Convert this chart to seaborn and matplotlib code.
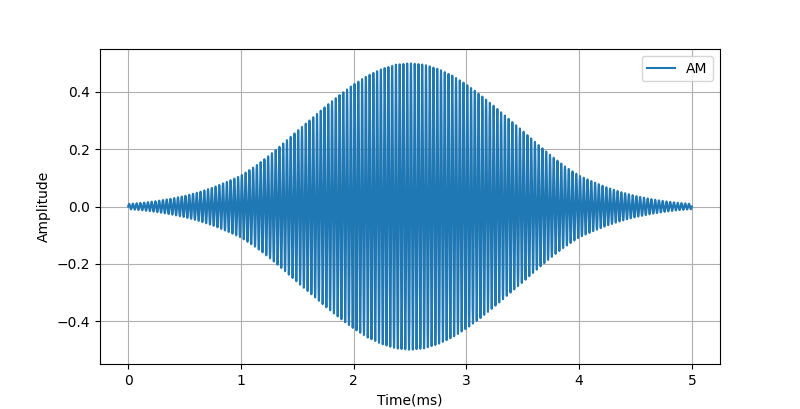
import numpy as np
import pandas as pd
import matplotlib
matplotlib.use("Agg")
import matplotlib.pyplot as plt
import seaborn as sns

# Envelope peak amplitude, every 0.125 ms from 0 to 2.5 ms
# (the curve is symmetric about 2.5 ms)
env_times_half = [0.0, 0.125, 0.25, 0.375, 0.5, 0.625, 0.75, 0.875, 1.0, 1.125,
                  1.25, 1.375, 1.5, 1.625, 1.75, 1.875, 2.0, 2.125, 2.25, 2.375, 2.5]
env_values_half = [0.009, 0.013, 0.019, 0.027, 0.037, 0.050, 0.066, 0.086, 0.108, 0.140,
                   0.178, 0.220, 0.264, 0.306, 0.349, 0.389, 0.426, 0.457, 0.480, 0.495, 0.500]
carrier_cycles_per_ms = 30          # counted from the picture
duration_ms = 5.0
series_label = "AM"
x_label = "Time(ms)"
y_label = "Amplitude"

env_t = np.concatenate([env_times_half, duration_ms - np.array(env_times_half[-2::-1])])
env_v = np.concatenate([env_values_half, env_values_half[-2::-1]])

t = np.linspace(0, duration_ms, 10001)
envelope = np.interp(t, env_t, env_v)
signal = envelope * np.sin(2 * np.pi * carrier_cycles_per_ms * t)

df = pd.DataFrame({"Time": t, "Amplitude": signal, "series": series_label})

fig, ax = plt.subplots(figsize=(8, 4.09), dpi=100)
sns.lineplot(data=df, x="Time", y="Amplitude", hue="series", ax=ax,
             palette=["#1f77b4"], linewidth=1.5, estimator=None, sort=False)
ax.set_xlabel(x_label)
ax.set_ylabel(y_label)
ax.set_yticks([-0.4, -0.2, 0.0, 0.2, 0.4])
ax.grid(True)
ax.legend(loc="upper right", title=None)
fig.savefig("out.png", dpi=100)
